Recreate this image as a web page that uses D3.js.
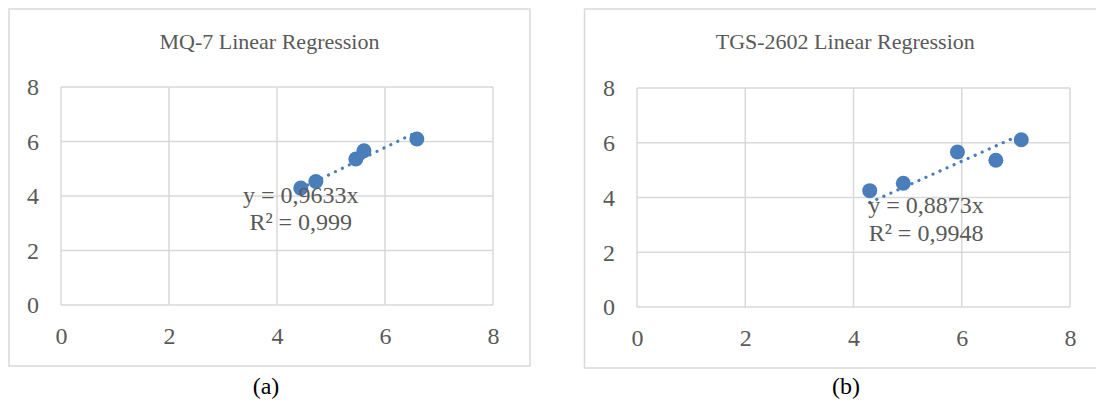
<!DOCTYPE html>
<html>
<head>
<meta charset="utf-8">
<script src="https://cdn.jsdelivr.net/npm/d3@7"></script>
<style>
  html, body { margin: 0; padding: 0; background: #ffffff; }
  svg { display: block; }
</style>
</head>
<body>
<svg id="chart" width="1096" height="405"></svg>
<script>
// Axis ticks shared by both panels
const xTicks = [0, 2, 4, 6, 8];
const yTicks = [0, 2, 4, 6, 8];

// MQ-7 sensor readings
const mq7X = [4.44, 4.72, 5.46, 5.61, 6.59];
const mq7Y = [4.29, 4.53, 5.36, 5.66, 6.09];
const mq7Slope = 0.9633;
const mq7R2 = "0,999";
const mq7Title = "MQ-7 Linear Regression";

// TGS-2602 sensor readings
const tgsX = [4.30, 4.92, 5.92, 6.63, 7.10];
const tgsY = [4.25, 4.52, 5.66, 5.36, 6.11];
const tgsSlope = 0.8873;
const tgsR2 = "0,9948";
const tgsTitle = "TGS-2602 Linear Regression";

const captions = ["(a)", "(b)"];

const svg = d3.select("#chart");
const FONT = "'Liberation Serif', 'Times New Roman', serif";
const TEXT = "#595959";
const GRID = "#d9d9d9";
const BLUE = "#4a7ebb";

function panel(opt) {
  const g = svg.append("g");

  // outer chart frame
  g.append("rect")
    .attr("x", opt.frame[0]).attr("y", opt.frame[1])
    .attr("width", opt.frame[2] - opt.frame[0])
    .attr("height", opt.frame[3] - opt.frame[1])
    .attr("fill", "#fff").attr("stroke", GRID).attr("stroke-width", 1.5);

  const x = d3.scaleLinear().domain([0, 8]).range([opt.plot[0], opt.plot[2]]);
  const y = d3.scaleLinear().domain([0, 8]).range([opt.plot[3], opt.plot[1]]);

  // gridlines
  g.append("g").selectAll("line.v").data(xTicks).join("line")
    .attr("x1", d => x(d)).attr("x2", d => x(d))
    .attr("y1", y(0)).attr("y2", y(8))
    .attr("stroke", GRID).attr("stroke-width", 1.5);
  g.append("g").selectAll("line.h").data(yTicks).join("line")
    .attr("y1", d => y(d)).attr("y2", d => y(d))
    .attr("x1", x(0)).attr("x2", x(8))
    .attr("stroke", GRID).attr("stroke-width", 1.5);

  // axes tick labels
  const xAxis = d3.axisBottom(x).tickValues(xTicks).tickSize(0).tickPadding(0);
  const ax = g.append("g").attr("transform", `translate(0,${y(0)})`).call(xAxis);
  ax.select(".domain").remove();
  ax.selectAll("text")
    .attr("y", 39).attr("dy", null)
    .attr("font-family", FONT).attr("font-size", 24).attr("fill", TEXT);

  const yAxis = d3.axisLeft(y).tickValues(yTicks).tickSize(0).tickPadding(0);
  const ay = g.append("g").attr("transform", `translate(${x(0)},0)`).call(yAxis);
  ay.select(".domain").remove();
  ay.selectAll("text")
    .attr("x", -22).attr("dy", "0.33em")
    .attr("font-family", FONT).attr("font-size", 24).attr("fill", TEXT);

  // title
  g.append("text")
    .attr("x", (opt.frame[0] + opt.frame[2]) / 2).attr("y", 49)
    .attr("text-anchor", "middle")
    .attr("font-family", FONT).attr("font-size", 22).attr("fill", TEXT)
    .text(opt.title);

  // trendline through the origin, spanning the data range
  const x0 = d3.min(opt.xs), x1 = d3.max(opt.xs);
  g.append("line")
    .attr("x1", x(x0)).attr("y1", y(opt.slope * x0))
    .attr("x2", x(x1)).attr("y2", y(opt.slope * x1))
    .attr("stroke", BLUE).attr("stroke-width", 3.2)
    .attr("stroke-linecap", "round").attr("stroke-dasharray", "0.1 7.6");

  // data markers
  g.append("g").selectAll("circle").data(opt.xs.map((v, i) => [v, opt.ys[i]])).join("circle")
    .attr("cx", d => x(d[0])).attr("cy", d => y(d[1]))
    .attr("r", 7.5).attr("fill", BLUE);

  // equation label
  const lab = g.append("text")
    .attr("text-anchor", "middle")
    .attr("font-family", FONT).attr("font-size", 24).attr("fill", TEXT);
  lab.append("tspan").attr("x", x(opt.labelX)).attr("y", y(opt.labelY1))
    .text(`y = ${String(opt.slope).replace(".", ",")}x`);
  lab.append("tspan").attr("x", x(opt.labelX)).attr("y", y(opt.labelY2))
    .text(`R² = ${opt.r2}`);

  // caption below
  g.append("text")
    .attr("x", opt.captionX).attr("y", 394)
    .attr("text-anchor", "middle")
    .attr("font-family", FONT).attr("font-size", 24).attr("fill", "#000")
    .text(opt.caption);
}

panel({
  frame: [9, 9, 530, 366],
  plot: [61, 87, 493, 305],
  title: mq7Title,
  xs: mq7X, ys: mq7Y,
  slope: mq7Slope, r2: mq7R2,
  labelX: 4.44, labelY1: 3.73, labelY2: 2.74,
  caption: captions[0], captionX: 266
});

panel({
  frame: [584.5, 9, 1106, 368],
  plot: [637, 88, 1070, 307],
  title: tgsTitle,
  xs: tgsX, ys: tgsY,
  slope: tgsSlope, r2: tgsR2,
  labelX: 5.34, labelY1: 3.43, labelY2: 2.42,
  caption: captions[1], captionX: 846
});
</script>
</body>
</html>
